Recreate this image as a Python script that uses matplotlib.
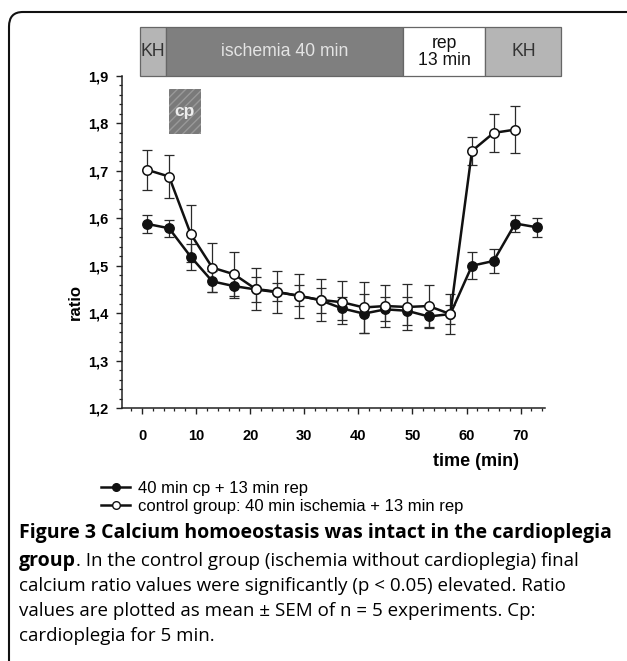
import numpy as np
import matplotlib
matplotlib.use('Agg')
from matplotlib import pyplot as plt
from matplotlib.patches import Rectangle, FancyBboxPatch
from matplotlib.lines import Line2D
from matplotlib.ticker import MultipleLocator

# data
t_cp = [1, 5, 9, 13, 17, 21, 25, 29, 33, 37, 41, 45, 49, 53, 57, 61, 65, 69, 73]
cp_mean = [1.588, 1.579, 1.519, 1.467, 1.457, 1.450, 1.444, 1.437, 1.427, 1.410,
           1.399, 1.408, 1.405, 1.393, 1.398, 1.500, 1.510, 1.589, 1.581]
cp_sem = [0.018, 0.018, 0.027, 0.022, 0.025, 0.026, 0.019, 0.022, 0.027, 0.025,
          0.041, 0.025, 0.030, 0.025, 0.020, 0.028, 0.025, 0.018, 0.020]

t_ctrl = [1, 5, 9, 13, 17, 21, 25, 29, 33, 37, 41, 45, 49, 53, 57, 61, 65, 69]
ctrl_mean = [1.702, 1.688, 1.567, 1.496, 1.482, 1.451, 1.445, 1.436, 1.428, 1.423,
             1.412, 1.415, 1.413, 1.415, 1.398, 1.742, 1.780, 1.787]
ctrl_sem = [0.043, 0.046, 0.060, 0.052, 0.046, 0.045, 0.044, 0.047, 0.045, 0.045,
            0.053, 0.045, 0.048, 0.044, 0.042, 0.030, 0.040, 0.050]

# protocol bar on top
phase_start = [-0.4, 4.4, 48.3, 63.5]
phase_end = [4.4, 48.3, 63.5, 77.5]
phase_label = ['KH', 'ischemia 40 min', 'rep\n13 min', 'KH']
phase_color = ['#b5b5b5', '#7f7f7f', '#ffffff', '#b5b5b5']
phase_text = ['#333333', '#e4e4e4', '#111111', '#333333']
cp_span = [5.0, 10.9]

xticks = [0, 10, 20, 30, 40, 50, 60, 70]
yticks = [1.2, 1.3, 1.4, 1.5, 1.6, 1.7, 1.8, 1.9]
ytick_labels = ['1,2', '1,3', '1,4', '1,5', '1,6', '1,7', '1,8', '1,9']

W, H = 627, 661
plt.rcParams['font.family'] = ['Liberation Sans', 'DejaVu Sans']
plt.rcParams['hatch.color'] = '#a0a0a0'
fig = plt.figure(figsize=(W / 100, H / 100), dpi=100)

ax = fig.add_axes([122 / W, 1 - 408 / H, (545 - 122) / W, (408 - 76) / H])
ax.set_xlim(-3.7, 74.5)
ax.set_ylim(1.2, 1.9)
for s in ['top', 'right']:
    ax.spines[s].set_visible(False)
for s in ['left', 'bottom']:
    ax.spines[s].set_linewidth(1.1)
    ax.spines[s].set_color('#222222')

ax.set_xticks(xticks)
ax.set_xticklabels([str(v) for v in xticks], fontweight='bold', fontsize=10.5)
ax.set_yticks(yticks)
ax.set_yticklabels(ytick_labels, fontweight='bold', fontsize=10.5)
ax.xaxis.set_minor_locator(MultipleLocator(2))
ax.yaxis.set_minor_locator(MultipleLocator(0.02))
ax.tick_params(which='major', length=4, width=1, color='#222222', pad=6)
ax.tick_params(axis='x', which='major', pad=11)
ax.tick_params(which='minor', length=2.2, width=0.9, color='#222222')
ax.set_ylabel('ratio', fontweight='bold', fontsize=12)
ax.yaxis.set_label_coords((75 - 122) / (545 - 122), (408 - 302) / (408 - 76))
ax.set_xlabel('time (min)', fontweight='bold', fontsize=13)
ax.xaxis.set_label_coords((476 - 122) / (545 - 122), -(461 - 408) / (408 - 76))
ax.xaxis.label.set_va('center')
ax.yaxis.label.set_va('center')

# error bars behind the lines
ax.errorbar(t_cp, cp_mean, yerr=cp_sem, fmt='none', ecolor='#2a2a2a',
            elinewidth=0.9, capsize=3.5, capthick=0.9, zorder=2)
ax.errorbar(t_ctrl, ctrl_mean, yerr=ctrl_sem, fmt='none', ecolor='#2a2a2a',
            elinewidth=0.9, capsize=3.5, capthick=0.9, zorder=2)
ax.plot(t_cp, cp_mean, '-o', color='#111111', lw=1.8, ms=6.8,
        mfc='#111111', mec='#111111', zorder=3)
ax.plot(t_ctrl, ctrl_mean, '-o', color='#111111', lw=1.8, ms=6.8,
        mfc='white', mec='#111111', mew=1.1, zorder=4)

# protocol bar
for x0, x1, lab, c, tc in zip(phase_start, phase_end, phase_label, phase_color, phase_text):
    ax.add_patch(Rectangle((x0, 1.9), x1 - x0, 0.103, facecolor=c, edgecolor='#666666',
                           lw=0.9, clip_on=False, zorder=5))
    ax.text((x0 + x1) / 2, 1.9 + 0.0515, lab, ha='center', va='center', color=tc,
            fontsize=12.7, linespacing=1.0, clip_on=False, zorder=6)

# cardioplegia box
ax.add_patch(Rectangle((cp_span[0], 1.778), cp_span[1] - cp_span[0], 0.095,
                       facecolor='#7a7a7a', edgecolor='#999999', hatch='////',
                       lw=0, zorder=5))
ax.text(sum(cp_span) / 2, 1.826, 'cp', ha='center', va='center', color='#eeeeee',
        fontsize=12.5, fontweight='bold', zorder=6)

# legend
h1 = Line2D([], [], color='#111111', lw=1.8, marker='o', ms=5.5, mfc='#111111')
h2 = Line2D([], [], color='#111111', lw=1.8, marker='o', ms=5.5, mfc='white')
fig.legend([h1, h2], ['40 min cp + 13 min rep', 'control group: 40 min ischemia + 13 min rep'],
           loc='upper left', bbox_to_anchor=(101 / W, 1 - 481 / H), frameon=False,
           fontsize=12, handlelength=1.75, handletextpad=0.45, labelspacing=0.17,
           borderpad=0, borderaxespad=0)

# frame with rounded top-left corner
frame = FancyBboxPatch((9 / W, -0.2), 2, 0.2 + (1 - 12 / H), boxstyle='round,pad=0,rounding_size=0.022',
                       transform=fig.transFigure, fill=False, lw=1.5, ec='#111111')
fig.patches.append(frame)

# caption
cap_font = ['Open Sans', 'DejaVu Sans']
fs = 14.0
fs_reg = 13.5
x0 = 19 / W
fig.text(x0, 1 - 533 / H, 'Figure 3 Calcium homoeostasis was intact in the cardioplegia',
         family=cap_font, fontsize=fs, fontweight='bold', va='center')
t_bold = fig.text(x0, 1 - 561 / H, 'group', family=cap_font, fontsize=fs,
                  fontweight='bold', va='center')
fig.canvas.draw()
bb = t_bold.get_window_extent()
fig.text(bb.x1 / W, 1 - 561 / H,
         '. In the control group (ischemia without cardioplegia) final',
         family=cap_font, fontsize=fs_reg, va='center')
rest = ['calcium ratio values were significantly (p < 0.05) elevated. Ratio',
        'values are plotted as mean \u00b1 SEM of n = 5 experiments. Cp:',
        'cardioplegia for 5 min.']
for i, line in enumerate(rest):
    fig.text(x0, 1 - (586 + 25 * i) / H, line, family=cap_font, fontsize=fs_reg, va='center')

fig.savefig('out.png', dpi=100)
